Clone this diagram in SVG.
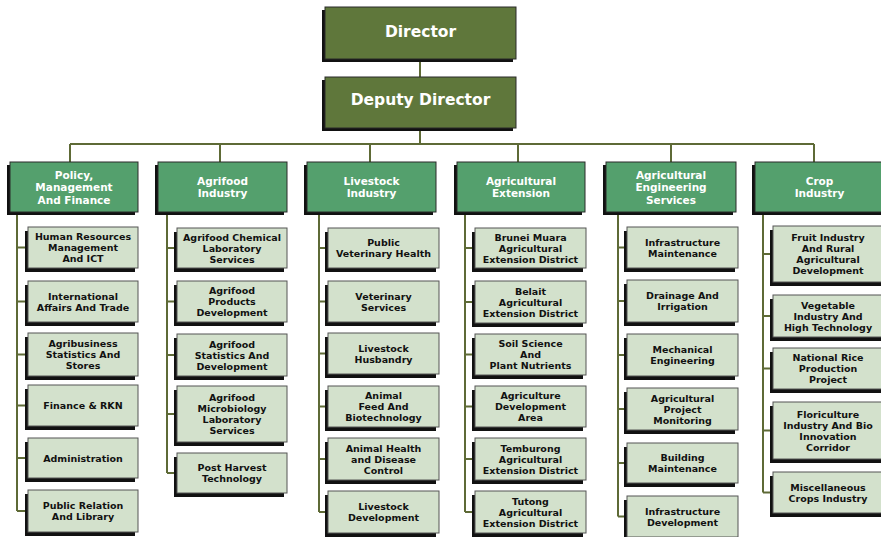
<svg xmlns="http://www.w3.org/2000/svg" width="881" height="537" viewBox="0 0 881 537">
<style>
.sh{fill:#111}
.top{fill:#5f773b;stroke:#2a2a2a;stroke-width:1}
.hd{fill:#54a06d;stroke:#2a2a2a;stroke-width:1}
.ch{fill:#d3e1cc;stroke:#555;stroke-width:1}
.tt{font-family:"DejaVu Sans",Verdana,sans-serif;font-weight:bold;font-size:15.5px;fill:#fff;text-anchor:middle}
.ht{font-family:"DejaVu Sans",Verdana,sans-serif;font-weight:bold;font-size:10.5px;fill:#fff;text-anchor:middle}
.ct{font-family:"DejaVu Sans",Verdana,sans-serif;font-weight:bold;font-size:9.5px;fill:#111;text-anchor:middle}
.cn{fill:none;stroke:#5e6a36;stroke-width:2}
</style>
<rect width="881" height="537" fill="#fff"/>
<g id="connectors" class="cn">
<path d="M420 59V77M420 128V144M70 144H814M70 144V162M220 144V162M370 144V162M518 144V162M671 144V162M814 144V162"/>
<path d="M17 212V511M17 247.5H28M17 301.5H28M17 354.5H28M17 405.5H28M17 458H28M17 511H28"/>
<path d="M167 212V473M167 248H177M167 301.5H177M167 355H177M167 414H177M167 473H177"/>
<path d="M319 212V512M319 248H328M319 301.5H328M319 353.5H328M319 406.5H328M319 459H328M319 512H328"/>
<path d="M465 212V512M465 248H475M465 302H475M465 354.5H475M465 406.5H475M465 459H475M465 512H475"/>
<path d="M618 212V516.5M618 247.5H627M618 301H627M618 355H627M618 409H627M618 463H627M618 516.5H627"/>
<path d="M763 212V492.5M763 254H773M763 316H773M763 368.5H773M763 430.5H773M763 492.5H773"/>
</g>
<g id="director"><rect class="sh" x="322" y="10" width="191" height="52"/><rect class="top" x="325" y="7" width="191" height="52"/><text class="tt" x="420.5" y="36.5">Director</text></g>
<g id="deputy"><rect class="sh" x="322" y="80" width="191" height="51"/><rect class="top" x="325" y="77" width="191" height="51"/><text class="tt" x="420.5" y="104.5">Deputy Director</text></g>

<g id="h1"><rect class="sh" x="7" y="165" width="128" height="50"/><rect class="hd" x="10" y="162" width="128" height="50"/><text class="ht" x="74" y="178.5">Policy,</text><text class="ht" x="74" y="191">Management</text><text class="ht" x="74" y="203.5">And Finance</text></g>
<g id="h2"><rect class="sh" x="155" y="165" width="129" height="50"/><rect class="hd" x="158" y="162" width="129" height="50"/><text class="ht" x="222.5" y="184.75">Agrifood</text><text class="ht" x="222.5" y="197.25">Industry</text></g>
<g id="h3"><rect class="sh" x="304" y="165" width="129" height="50"/><rect class="hd" x="307" y="162" width="129" height="50"/><text class="ht" x="371.5" y="184.75">Livestock</text><text class="ht" x="371.5" y="197.25">Industry</text></g>
<g id="h4"><rect class="sh" x="454" y="165" width="128" height="50"/><rect class="hd" x="457" y="162" width="128" height="50"/><text class="ht" x="521" y="184.75">Agricultural</text><text class="ht" x="521" y="197.25">Extension</text></g>
<g id="h5"><rect class="sh" x="603" y="165" width="130" height="50"/><rect class="hd" x="606" y="162" width="130" height="50"/><text class="ht" x="671" y="178.5">Agricultural</text><text class="ht" x="671" y="191">Engineering</text><text class="ht" x="671" y="203.5">Services</text></g>
<g id="h6"><rect class="sh" x="752" y="165" width="129" height="50"/><rect class="hd" x="755" y="162" width="129" height="50"/><text class="ht" x="819.5" y="184.75">Crop</text><text class="ht" x="819.5" y="197.25">Industry</text></g>

<g id="c1-1"><rect class="sh" x="25" y="231" width="110" height="41"/><rect class="ch" x="28" y="227" width="110" height="41"/><text class="ct" x="83" y="240">Human Resources</text><text class="ct" x="83" y="251">Management</text><text class="ct" x="83" y="262">And ICT</text></g>
<g id="c1-2"><rect class="sh" x="25" y="285" width="110" height="41"/><rect class="ch" x="28" y="281" width="110" height="41"/><text class="ct" x="83" y="299.5">International</text><text class="ct" x="83" y="310.5">Affairs And Trade</text></g>
<g id="c1-3"><rect class="sh" x="25" y="337" width="110" height="43"/><rect class="ch" x="28" y="333" width="110" height="43"/><text class="ct" x="83" y="347">Agribusiness</text><text class="ct" x="83" y="358">Statistics And</text><text class="ct" x="83" y="369">Stores</text></g>
<g id="c1-4"><rect class="sh" x="25" y="389" width="110" height="41"/><rect class="ch" x="28" y="385" width="110" height="41"/><text class="ct" x="83" y="409">Finance &amp; RKN</text></g>
<g id="c1-5"><rect class="sh" x="25" y="442" width="110" height="40"/><rect class="ch" x="28" y="438" width="110" height="40"/><text class="ct" x="83" y="461.5">Administration</text></g>
<g id="c1-6"><rect class="sh" x="25" y="494" width="110" height="42"/><rect class="ch" x="28" y="490" width="110" height="42"/><text class="ct" x="83" y="509">Public Relation</text><text class="ct" x="83" y="520">And Library</text></g>

<g id="c2-1"><rect class="sh" x="174" y="232" width="110" height="40"/><rect class="ch" x="177" y="228" width="110" height="40"/><text class="ct" x="232" y="240.5">Agrifood Chemical</text><text class="ct" x="232" y="251.5">Laboratory</text><text class="ct" x="232" y="262.5">Services</text></g>
<g id="c2-2"><rect class="sh" x="174" y="285" width="110" height="41"/><rect class="ch" x="177" y="281" width="110" height="41"/><text class="ct" x="232" y="294">Agrifood</text><text class="ct" x="232" y="305">Products</text><text class="ct" x="232" y="316">Development</text></g>
<g id="c2-3"><rect class="sh" x="174" y="338" width="110" height="42"/><rect class="ch" x="177" y="334" width="110" height="42"/><text class="ct" x="232" y="347.5">Agrifood</text><text class="ct" x="232" y="358.5">Statistics And</text><text class="ct" x="232" y="369.5">Development</text></g>
<g id="c2-4"><rect class="sh" x="174" y="390" width="110" height="56"/><rect class="ch" x="177" y="386" width="110" height="56"/><text class="ct" x="232" y="401">Agrifood</text><text class="ct" x="232" y="412">Microbiology</text><text class="ct" x="232" y="423">Laboratory</text><text class="ct" x="232" y="434">Services</text></g>
<g id="c2-5"><rect class="sh" x="174" y="457" width="110" height="40"/><rect class="ch" x="177" y="453" width="110" height="40"/><text class="ct" x="232" y="471">Post Harvest</text><text class="ct" x="232" y="482">Technology</text></g>

<g id="c3-1"><rect class="sh" x="325" y="232" width="111" height="40"/><rect class="ch" x="328" y="228" width="111" height="40"/><text class="ct" x="383.5" y="246">Public</text><text class="ct" x="383.5" y="257">Veterinary Health</text></g>
<g id="c3-2"><rect class="sh" x="325" y="285" width="111" height="41"/><rect class="ch" x="328" y="281" width="111" height="41"/><text class="ct" x="383.5" y="299.5">Veterinary</text><text class="ct" x="383.5" y="310.5">Services</text></g>
<g id="c3-3"><rect class="sh" x="325" y="337" width="111" height="41"/><rect class="ch" x="328" y="333" width="111" height="41"/><text class="ct" x="383.5" y="351.5">Livestock</text><text class="ct" x="383.5" y="362.5">Husbandry</text></g>
<g id="c3-4"><rect class="sh" x="325" y="390" width="111" height="41"/><rect class="ch" x="328" y="386" width="111" height="41"/><text class="ct" x="383.5" y="399">Animal</text><text class="ct" x="383.5" y="410">Feed And</text><text class="ct" x="383.5" y="421">Biotechnology</text></g>
<g id="c3-5"><rect class="sh" x="325" y="442" width="111" height="42"/><rect class="ch" x="328" y="438" width="111" height="42"/><text class="ct" x="383.5" y="451.5">Animal Health</text><text class="ct" x="383.5" y="462.5">and Disease</text><text class="ct" x="383.5" y="473.5">Control</text></g>
<g id="c3-6"><rect class="sh" x="325" y="495" width="111" height="42"/><rect class="ch" x="328" y="491" width="111" height="42"/><text class="ct" x="383.5" y="510">Livestock</text><text class="ct" x="383.5" y="521">Development</text></g>

<g id="c4-1"><rect class="sh" x="472" y="232" width="111" height="40"/><rect class="ch" x="475" y="228" width="111" height="40"/><text class="ct" x="530.5" y="240.5">Brunei Muara</text><text class="ct" x="530.5" y="251.5">Agricultural</text><text class="ct" x="530.5" y="262.5">Extension District</text></g>
<g id="c4-2"><rect class="sh" x="472" y="285" width="111" height="42"/><rect class="ch" x="475" y="281" width="111" height="42"/><text class="ct" x="530.5" y="294.5">Belait</text><text class="ct" x="530.5" y="305.5">Agricultural</text><text class="ct" x="530.5" y="316.5">Extension District</text></g>
<g id="c4-3"><rect class="sh" x="472" y="338" width="111" height="41"/><rect class="ch" x="475" y="334" width="111" height="41"/><text class="ct" x="530.5" y="347">Soil Science</text><text class="ct" x="530.5" y="358">And</text><text class="ct" x="530.5" y="369">Plant Nutrients</text></g>
<g id="c4-4"><rect class="sh" x="472" y="390" width="111" height="41"/><rect class="ch" x="475" y="386" width="111" height="41"/><text class="ct" x="530.5" y="399">Agriculture</text><text class="ct" x="530.5" y="410">Development</text><text class="ct" x="530.5" y="421">Area</text></g>
<g id="c4-5"><rect class="sh" x="472" y="442" width="111" height="42"/><rect class="ch" x="475" y="438" width="111" height="42"/><text class="ct" x="530.5" y="451.5">Temburong</text><text class="ct" x="530.5" y="462.5">Agricultural</text><text class="ct" x="530.5" y="473.5">Extension District</text></g>
<g id="c4-6"><rect class="sh" x="472" y="495" width="111" height="42"/><rect class="ch" x="475" y="491" width="111" height="42"/><text class="ct" x="530.5" y="504.5">Tutong</text><text class="ct" x="530.5" y="515.5">Agricultural</text><text class="ct" x="530.5" y="526.5">Extension District</text></g>

<g id="c5-1"><rect class="sh" x="624" y="231" width="111" height="41"/><rect class="ch" x="627" y="227" width="111" height="41"/><text class="ct" x="682.5" y="245.5">Infrastructure</text><text class="ct" x="682.5" y="256.5">Maintenance</text></g>
<g id="c5-2"><rect class="sh" x="624" y="284" width="111" height="42"/><rect class="ch" x="627" y="280" width="111" height="42"/><text class="ct" x="682.5" y="299">Drainage And</text><text class="ct" x="682.5" y="310">Irrigation</text></g>
<g id="c5-3"><rect class="sh" x="624" y="338" width="111" height="42"/><rect class="ch" x="627" y="334" width="111" height="42"/><text class="ct" x="682.5" y="353">Mechanical</text><text class="ct" x="682.5" y="364">Engineering</text></g>
<g id="c5-4"><rect class="sh" x="624" y="392" width="111" height="42"/><rect class="ch" x="627" y="388" width="111" height="42"/><text class="ct" x="682.5" y="401.5">Agricultural</text><text class="ct" x="682.5" y="412.5">Project</text><text class="ct" x="682.5" y="423.5">Monitoring</text></g>
<g id="c5-5"><rect class="sh" x="624" y="447" width="111" height="40"/><rect class="ch" x="627" y="443" width="111" height="40"/><text class="ct" x="682.5" y="461">Building</text><text class="ct" x="682.5" y="472">Maintenance</text></g>
<g id="c5-6"><rect class="sh" x="624" y="500" width="111" height="41"/><rect class="ch" x="627" y="496" width="111" height="41"/><text class="ct" x="682.5" y="514.5">Infrastructure</text><text class="ct" x="682.5" y="525.5">Development</text></g>

<g id="c6-1"><rect class="sh" x="770" y="230" width="111" height="56"/><rect class="ch" x="773" y="226" width="111" height="56"/><text class="ct" x="828" y="241">Fruit Industry</text><text class="ct" x="828" y="252">And Rural</text><text class="ct" x="828" y="263">Agricultural</text><text class="ct" x="828" y="274">Development</text></g>
<g id="c6-2"><rect class="sh" x="770" y="299" width="111" height="42"/><rect class="ch" x="773" y="295" width="111" height="42"/><text class="ct" x="828" y="308.5">Vegetable</text><text class="ct" x="828" y="319.5">Industry And</text><text class="ct" x="828" y="330.5">High Technology</text></g>
<g id="c6-3"><rect class="sh" x="770" y="352" width="111" height="41"/><rect class="ch" x="773" y="348" width="111" height="41"/><text class="ct" x="828" y="361">National Rice</text><text class="ct" x="828" y="372">Production</text><text class="ct" x="828" y="383">Project</text></g>
<g id="c6-4"><rect class="sh" x="770" y="406" width="111" height="57"/><rect class="ch" x="773" y="402" width="111" height="57"/><text class="ct" x="828" y="417.5">Floriculture</text><text class="ct" x="828" y="428.5">Industry And Bio</text><text class="ct" x="828" y="439.5">Innovation</text><text class="ct" x="828" y="450.5">Corridor</text></g>
<g id="c6-5"><rect class="sh" x="770" y="476" width="111" height="41"/><rect class="ch" x="773" y="472" width="111" height="41"/><text class="ct" x="828" y="490.5">Miscellaneous</text><text class="ct" x="828" y="501.5">Crops Industry</text></g>
</svg>
